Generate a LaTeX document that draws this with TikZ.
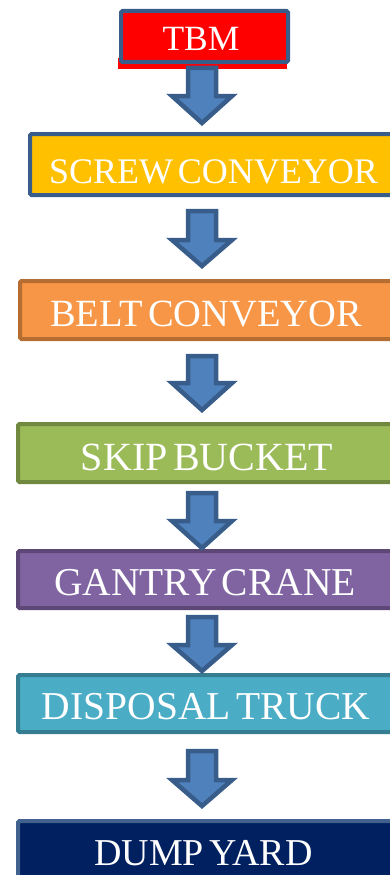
\documentclass[tikz,border=0pt]{standalone}
\usepackage{fontspec}
\setmainfont[WordSpace=0.55]{Liberation Serif}
\definecolor{bdblue}{HTML}{385D8A}
\definecolor{arrfill}{HTML}{4F81BD}
\definecolor{scrfill}{HTML}{FFC000}
\definecolor{beltfill}{HTML}{F79646}
\definecolor{beltbd}{HTML}{B66D31}
\definecolor{skipfill}{HTML}{9BBB59}
\definecolor{skipbd}{HTML}{71893F}
\definecolor{ganfill}{HTML}{8064A2}
\definecolor{ganbd}{HTML}{5C4776}
\definecolor{disfill}{HTML}{4BACC6}
\definecolor{disbd}{HTML}{357D91}
\definecolor{dumpfill}{HTML}{002060}
\definecolor{dumpbd}{HTML}{41628F}
\newcommand{\blockarr}[3]{%
  \draw[arr] (188,#1) -- (216,#1) -- (216,#2) -- (232,#2) -- (202,#3) -- (172,#2) -- (188,#2) -- cycle;}
\begin{document}
\begin{tikzpicture}[x=1pt,y=-1pt,
  box/.style={rectangle, line width=4pt, rounded corners=1.5pt, inner sep=0pt, anchor=north west},
  lbl/.style={text=white, anchor=base, inner sep=0pt},
  arr/.style={fill=arrfill, draw=bdblue, line width=4.5pt, line join=miter}]
\useasboundingbox (0,0) rectangle (390,875);
\clip (0,0) rectangle (390,875);
\fill[red] (118,58) rectangle (287,69);
\node[box, fill=red, draw=bdblue, minimum width=167pt, minimum height=51pt] (tbm) at (119,9) {};
\node[box, fill=scrfill, draw=bdblue, minimum width=380pt, minimum height=61pt] (screw) at (28,132) {};
\node[box, fill=beltfill, draw=beltbd, minimum width=380pt, minimum height=58pt] (belt) at (18,279) {};
\node[box, fill=skipfill, draw=skipbd, minimum width=380pt, minimum height=58pt] (skip) at (16,422) {};
\node[box, fill=ganfill, draw=ganbd, minimum width=380pt, minimum height=57pt] (gantry) at (16,549) {};
\node[box, fill=disfill, draw=disbd, minimum width=380pt, minimum height=57pt] (disposal) at (16,673) {};
\node[box, fill=dumpfill, draw=dumpbd, minimum width=380pt, minimum height=70pt] (dump) at (16,819) {};
\node[lbl, font=\fontsize{35.5}{35}\selectfont] (ttbm) at (201,51) {TBM};
\node[lbl, font=\fontsize{36}{36}\selectfont] (tscrew) at (213.5,183) {SCREW CONVEYOR};
\node[lbl, font=\fontsize{38.5}{38}\selectfont] (tbelt) at (206,326) {BELT CONVEYOR};
\node[lbl, font=\fontsize{40}{40}\selectfont] (tskip) at (207,470) {SKIP BUCKET};
\node[lbl, font=\fontsize{39.5}{39}\selectfont] (tgantry) at (205,595) {GANTRY CRANE};
\node[lbl, font=\fontsize{39.5}{39}\selectfont] (tdisposal) at (206,719) {DISPOSAL TRUCK};
\node[lbl, font=\fontsize{38}{38}\selectfont] (tdump) at (203.5,865) {DUMP YARD};
\blockarr{68}{96}{123}
\blockarr{211}{240}{266}
\blockarr{356}{383}{410}
\blockarr{493}{521}{548}
\blockarr{617}{645}{671}
\blockarr{751}{780}{806}
\end{tikzpicture}
\end{document}
